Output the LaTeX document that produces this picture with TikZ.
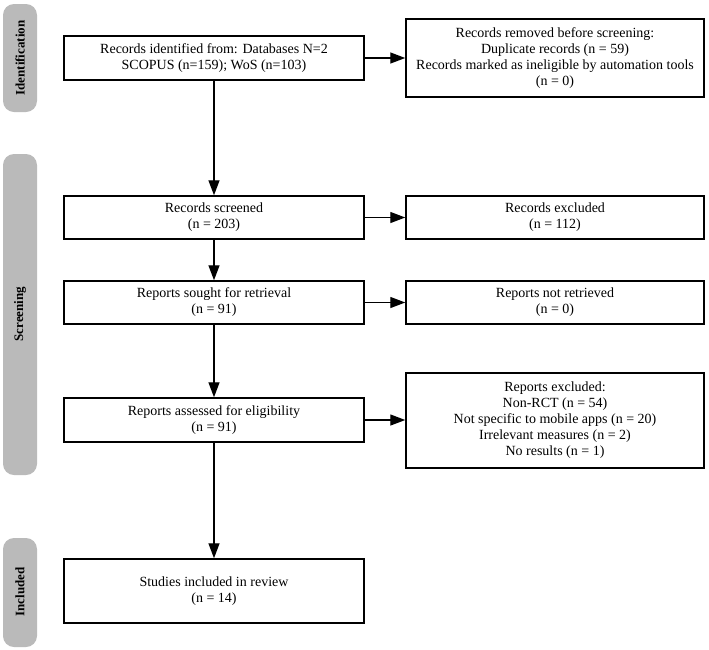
\documentclass[tikz,border=0pt]{standalone}
\usepackage{fontspec}
\setmainfont{Liberation Serif}
\usetikzlibrary{arrows.meta}
\begin{document}
\begin{tikzpicture}[x=1pt,y=-1pt,
  box/.style={draw=black,line width=1.5pt,fill=white,align=center,inner sep=0pt,
    font=\fontsize{14}{16}\selectfont},
  bar/.style={fill=black!27,draw=none,rounded corners=11pt},
  barlabel/.style={rotate=90,font=\fontsize{13}{15}\selectfont\bfseries},
  arr/.style={line width=1.4pt,-{Triangle[length=15pt,width=11pt]}}]
\useasboundingbox (0,0) rectangle (709,649);
% side bars
\fill[bar] (3,4) rectangle (37,112);
\node[barlabel] (lid) at (20,58) {Identification};
\fill[bar] (3,154) rectangle (37,475);
\node[barlabel] (lsc) at (20,314) {Screening};
\fill[bar] (3,538) rectangle (37,647);
\node[barlabel] (lin) at (20,592) {Included};
% left column
\node[box,minimum width=300pt,minimum height=44pt] (id) at (214,58)
  {Records identified from: Databases N=2\\SCOPUS (n=159); WoS (n=103)};
\node[box,minimum width=300pt,minimum height=43pt] (scr) at (214,217.5)
  {Records screened\\(n = 203)};
\node[box,minimum width=300pt,minimum height=43pt] (sou) at (214,302.5)
  {Reports sought for retrieval\\(n = 91)};
\node[box,minimum width=300pt,minimum height=44pt] (ass) at (214,420)
  {Reports assessed for eligibility\\(n = 91)};
\node[box,minimum width=300pt,minimum height=64pt] (inc) at (214,591)
  {Studies included in review\\(n = 14)};
% right column
\node[box,minimum width=298pt,minimum height=78pt] (rem) at (555,58)
  {Records removed before screening:\\Duplicate records (n = 59)\\Records marked as ineligible by automation tools\\(n = 0)};
\node[box,minimum width=298pt,minimum height=43pt] (exc) at (555,217.5)
  {Records excluded\\(n = 112)};
\node[box,minimum width=298pt,minimum height=43pt] (ret) at (555,302.5)
  {Reports not retrieved\\(n = 0)};
\node[box,minimum width=298pt,minimum height=95pt] (rex) at (555,420.5)
  {Reports excluded:\\Non-RCT (n = 54)\\Not specific to mobile apps (n = 20)\\Irrelevant measures (n = 2)\\No results (n = 1)};
% connectors
\draw[arr] (id) -- (scr);
\draw[arr] (scr) -- (sou);
\draw[arr] (sou) -- (ass);
\draw[arr] (ass) -- (inc);
\draw[arr] (id) -- (rem);
\draw[arr] (scr) -- (exc);
\draw[arr] (sou) -- (ret);
\draw[arr] (ass.east) -- (ass.east -| rex.west);
\end{tikzpicture}
\end{document}
